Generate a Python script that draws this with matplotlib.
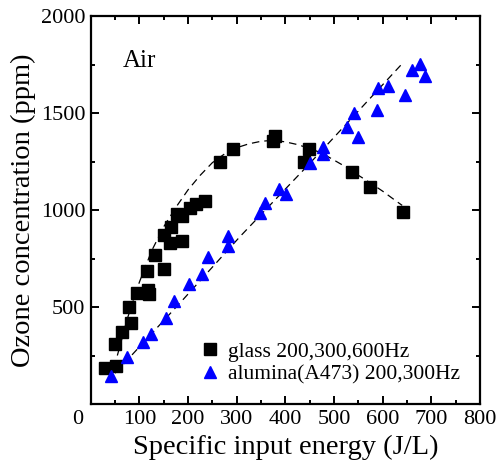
import matplotlib
matplotlib.use("Agg")
import matplotlib.pyplot as plt
from matplotlib.ticker import MultipleLocator, FixedLocator
import matplotlib.transforms as mtransforms

plt.rcParams['font.family'] = ['Liberation Serif', 'DejaVu Serif']

# glass 200,300,600Hz
glass_x = [30, 52, 50, 64, 83, 79, 95, 118, 120, 115, 132, 151, 151, 162, 164,
           177, 187, 187, 203, 216, 235, 266, 293, 374, 379, 449, 438, 536, 573, 642]
glass_y = [188, 197, 312, 373, 418, 500, 573, 591, 569, 685, 768, 700, 872, 830, 912,
           979, 842, 972, 1011, 1032, 1049, 1246, 1315, 1354, 1383, 1316, 1246, 1196, 1122, 992]

# alumina(A473) 200,300Hz
alum_x = [41, 74, 108, 124, 155, 171, 201, 228, 242, 283, 283, 348, 358, 386, 401,
          451, 477, 478, 526, 541, 550, 588, 590, 610, 646, 660, 677, 687]
alum_y = [149, 243, 320, 363, 445, 534, 620, 672, 757, 814, 865, 986, 1037, 1109, 1085,
          1243, 1328, 1289, 1431, 1500, 1375, 1517, 1629, 1642, 1591, 1723, 1752, 1692]

# dashed guide curves
glass_fit_x = [48, 75, 100, 125, 150, 175, 200, 225, 250, 275, 300, 325, 350, 375,
               400, 425, 450, 475, 500, 525, 550, 575, 600, 625, 640]
glass_fit_y = [190, 440, 630, 790, 915, 1015, 1105, 1180, 1245, 1290, 1322, 1342, 1355, 1360,
               1352, 1338, 1318, 1294, 1258, 1222, 1180, 1140, 1098, 1052, 1025]
alum_fit_x = [50, 185, 307, 444, 492, 642]
alum_fit_y = [161, 527, 865, 1225, 1354, 1760]

labels = ["glass 200,300,600Hz", "alumina(A473) 200,300Hz"]

fig = plt.figure(figsize=(4.99, 4.68), dpi=100)
ax = fig.add_axes([0.1818, 0.1357, 0.962 - 0.1818, 0.9658 - 0.1357])

ax.plot(glass_fit_x, glass_fit_y, color='black', lw=0.9, ls=(0, (6, 4)))
ax.plot(alum_fit_x, alum_fit_y, color='black', lw=0.9, ls=(0, (6, 4)))
ax.plot(glass_x, glass_y, ls='none', marker='s', ms=8.2, color='black', label=labels[0])
ax.plot(alum_x, alum_y, ls='none', marker='^', ms=8.5, color='blue', label=labels[1])

ax.set_xlim(0, 800)
ax.set_ylim(0, 2000)
ax.xaxis.set_major_locator(MultipleLocator(100))
ax.xaxis.set_minor_locator(MultipleLocator(50))
ax.yaxis.set_major_locator(FixedLocator([500, 1000, 1500, 2000]))
ax.yaxis.set_minor_locator(MultipleLocator(250))

for s in ax.spines.values():
    s.set_linewidth(1.6)
ax.tick_params(which='both', direction='in', top=True, right=True, width=1.4, labelsize=16)
ax.tick_params(which='major', length=6, pad=4)
ax.tick_params(which='minor', length=3)

fig.canvas.draw()
xt = ax.get_xticklabels()
off = mtransforms.ScaledTranslation(-13 / 100, 0, fig.dpi_scale_trans)
for t in xt:
    if t.get_text() in ('0',):
        t.set_transform(t.get_transform() + off)

ax.set_xlabel("Specific input energy (J/L)", fontsize=20.5, labelpad=4)
ax.set_ylabel("Ozone concentration (ppm)", fontsize=20.5, labelpad=3)

ax.text(0.083, 0.885, "Air", transform=ax.transAxes, fontsize=18, va='center', ha='left')

ax.legend(loc='lower left', bbox_to_anchor=(0.255, 0.03), frameon=False, fontsize=15.5,
          handletextpad=0.25, labelspacing=0.1, handlelength=1.1, borderaxespad=0)

fig.savefig("out.png", dpi=100)
